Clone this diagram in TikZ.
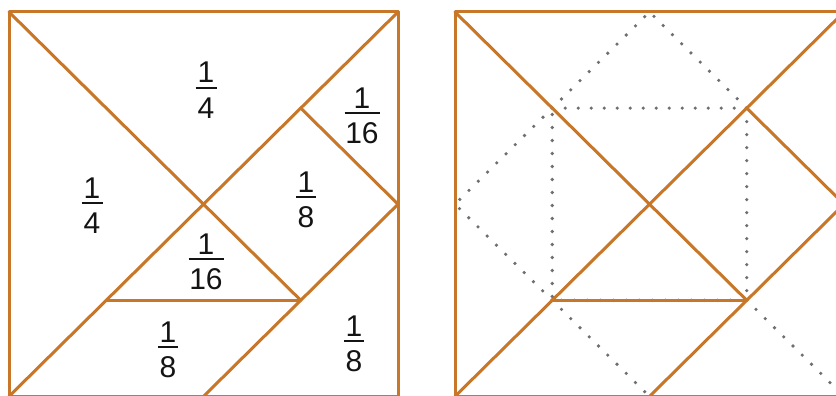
\documentclass[tikz,border=0pt]{standalone}
\usepackage{fontspec}
\setmainfont{Liberation Sans}
\definecolor{tanorange}{RGB}{200,118,40}
\definecolor{dotgray}{RGB}{110,110,115}
\definecolor{labelink}{RGB}{20,20,20}
\tikzset{
  edgeline/.style={draw=tanorange, line width=3pt, line cap=round, line join=round},
  dotline/.style={draw=dotgray, line width=3.6pt, line cap=round, dash pattern=on 0pt off 13pt},
  fracnum/.style={anchor=base, inner sep=0pt, text=labelink, font=\fontsize{30}{35}\selectfont},
  fracbar/.style={draw=labelink, line width=1.3pt},
}
\newcommand\frlabel[6]{%
  \node[fracnum] (#1n) at (#2,#3-5) {#4};
  \node[fracnum] (#1d) at (#2,#3+30) {#5};
  \draw[fracbar] (#2-#6/2,#3) -- (#2+#6/2,#3);
}
\begin{document}
\begin{tikzpicture}[x=1pt,y=-1pt]
\useasboundingbox (0,0) rectangle (836,396);
\clip (0,0) rectangle (836,396);
\fill[white] (0,0) rectangle (836,396);
\foreach \i in {0,...,4}{
  \foreach \j in {0,...,4}{
    \coordinate (L\i\j) at (9+\i*97.25, 12+\j*96.1);
    \coordinate (R\i\j) at (455+\i*97.25, 12+\j*96.1);
  }
}
% right panel dotted construction
\draw[dotline] (R11) -- (R31) -- (R33) -- (R13) -- cycle;
\draw[dotline] (R11) -- (R20) -- (R31);
\draw[dotline] (R11) -- (R02) -- (R13);
\draw[dotline] (R13) -- (R24);
\draw[dotline] (R33) -- (R44);
% tangram pieces, both panels
\foreach \p in {L,R}{
  \draw[edgeline] (\p00) -- (\p40) -- (\p44) -- (\p04) -- cycle;
  \draw[edgeline] (\p00) -- (\p33);
  \draw[edgeline] (\p40) -- (\p04);
  \draw[edgeline] (\p13) -- (\p33);
  \draw[edgeline] (\p42) -- (\p24);
  \draw[edgeline] (\p31) -- (\p42);
}
% labels
\frlabel{ftop}{206}{88}{1}{4}{21}
\frlabel{frt}{362}{113}{1}{16}{35}
\frlabel{fleft}{92}{203}{1}{4}{21}
\frlabel{fmid}{306}{197}{1}{8}{20}
\frlabel{fcen}{206}{259}{1}{16}{35}
\frlabel{fbot}{168}{347}{1}{8}{20}
\frlabel{fbr}{354}{341}{1}{8}{20}
\end{tikzpicture}
\end{document}
